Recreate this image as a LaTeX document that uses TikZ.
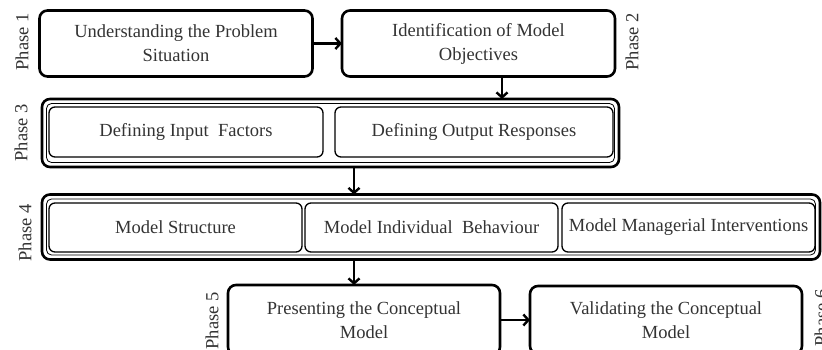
\documentclass[tikz,border=0pt]{standalone}
\usepackage{fontspec}
\setmainfont{Liberation Serif}
\usetikzlibrary{arrows.meta}
\begin{document}
\begin{tikzpicture}[x=1pt,y=-1pt,
  every node/.style={outer sep=0pt, inner sep=2pt},
  txt/.style={text=black!80, font=\fontsize{18.5}{24}\selectfont, align=center},
  stage/.style={txt, draw, line width=2.6pt, rounded corners=8pt},
  group/.style={draw, line width=2.6pt, rounded corners=8pt},
  sub/.style={txt, draw, line width=1.3pt, rounded corners=6pt},
  inner line/.style={line width=0.8pt, rounded corners=5pt},
  phase/.style={text=black!80, font=\fontsize{18.5}{22}\selectfont, rotate=90},
  flow/.style={line width=2.4pt, -{Straight Barb[length=5pt,width=11pt]}}]
\useasboundingbox (0,0) rectangle (822,350);
\clip (0,0) rectangle (822,350);

% Phase 1 and 2
\node[stage, minimum width=273pt, minimum height=66pt] (p1) at (176,43.5) {Understanding the Problem\\Situation};
\node[stage, minimum width=273pt, minimum height=66pt] (p2) at (478.5,43.5) {Identification of Model\\Objectives};
\node[phase] (l1) at (22,42) {Phase 1};
\node[phase] (l2) at (632,42) {Phase 2};

% Phase 3
\node[group, minimum width=577pt, minimum height=68pt] (p3) at (330.5,133) {};
\draw[inner line] ([shift={(4.5,4.5)}]p3.north west) rectangle ([shift={(-4.5,-4.5)}]p3.south east);
\node[sub, minimum width=274pt, minimum height=50pt] (p3a) at (186,132) {Defining Input\ \ Factors};
\node[sub, minimum width=278pt, minimum height=50pt] (p3b) at (474,132) {Defining Output Responses};
\node[phase] (l3) at (21,133) {Phase 3};

% Phase 4
\node[group, minimum width=778pt, minimum height=65pt] (p4) at (431,227) {};
\draw[inner line] ([shift={(4.5,4.5)}]p4.north west) rectangle ([shift={(-4.5,-4.5)}]p4.south east);
\node[sub, minimum width=253pt, minimum height=49pt] (p4a) at (175.5,227.5) {Model Structure};
\node[sub, minimum width=253pt, minimum height=49pt] (p4b) at (431.5,227.5) {Model Individual\ \ Behaviour};
\node[sub, minimum width=253pt, minimum height=49pt] (p4c) at (688.5,227.5) {Model Managerial Interventions};
\node[phase] (l4) at (25,233) {Phase 4};

% Phase 5 and 6
\node[stage, minimum width=272pt, minimum height=70pt] (p5) at (364,320) {Presenting the Conceptual\\Model};
\node[stage, minimum width=272pt, minimum height=68pt] (p6) at (666,320) {Validating the Conceptual\\Model};
\node[phase] (l5) at (212,321) {Phase 5};
\node[phase] (l6) at (821,318) {Phase 6};

% connectors
\coordinate (c1) at (354,0);
\coordinate (c2) at (502,0);
\draw[flow] (p1.east) -- (p2.west);
\draw[flow] (c2 |- p2.south) -- (c2 |- p3.north);
\draw[flow] (c1 |- p3.south) -- (c1 |- p4.north);
\draw[flow] (c1 |- p4.south) -- (c1 |- p5.north);
\draw[flow] (p5.east) -- (p6.west);
\end{tikzpicture}
\end{document}
